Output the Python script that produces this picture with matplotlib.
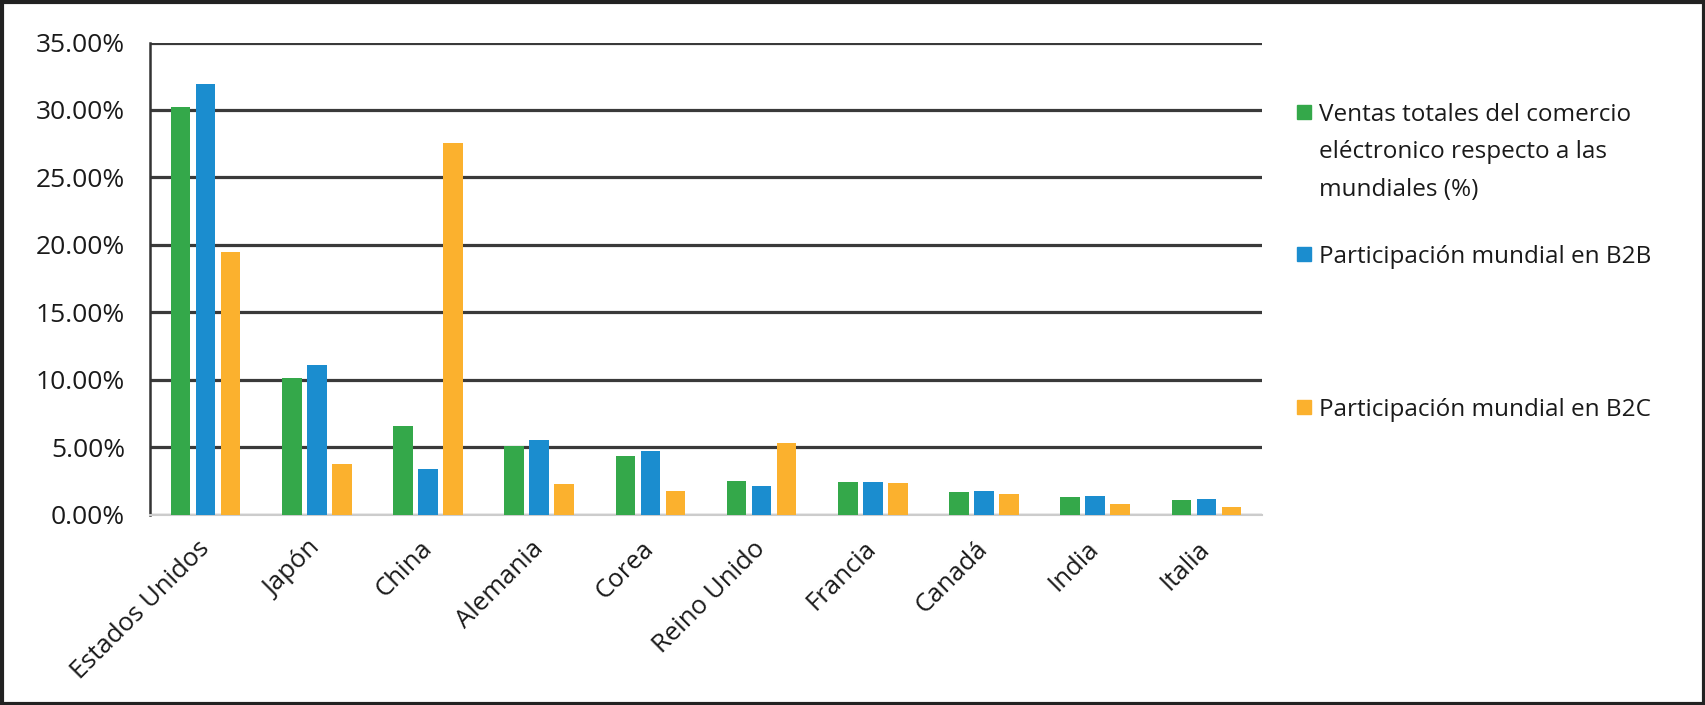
import matplotlib
matplotlib.use("Agg")
import matplotlib.pyplot as plt
from matplotlib.patches import Rectangle
from matplotlib.ticker import FuncFormatter
import numpy as np

plt.rcParams['font.family'] = ['Open Sans', 'DejaVu Sans']

categories = ["Estados Unidos", "Japón", "China", "Alemania", "Corea",
              "Reino Unido", "Francia", "Canadá", "India", "Italia"]
ventas_totales = [30.2, 10.1, 6.55, 5.05, 4.33, 2.52, 2.45, 1.68, 1.31, 1.09]
b2b = [31.9, 11.07, 3.39, 5.52, 4.71, 2.12, 2.45, 1.73, 1.38, 1.19]
b2c = [19.5, 3.77, 27.56, 2.24, 1.76, 5.31, 2.35, 1.51, 0.79, 0.54]
series_labels = [["Ventas totales del comercio", "eléctronico respecto a las", "mundiales (%)"],
                 ["Participación mundial en B2B"],
                 ["Participación mundial en B2C"]]
colors = ["#34A84A", "#1B8DCF", "#FBB12E"]
yticks = [0, 5, 10, 15, 20, 25, 30, 35]

W, H = 1706, 705
fig = plt.figure(figsize=(W/100, H/100), dpi=100)
ax = fig.add_axes([150/W, 1-514.6/H, (1262-150)/W, (514.6-42.5)/H])

x = np.arange(len(categories))
w = 0.175
off = 0.225
for i, (vals, c) in enumerate(zip([ventas_totales, b2b, b2c], colors)):
    ax.bar(x + (i-1)*off, vals, width=w, color=c, zorder=3)

ax.set_xlim(-0.5, len(categories)-0.5)
ax.set_ylim(0, 35)
ax.set_yticks(yticks)
ax.yaxis.set_major_formatter(FuncFormatter(lambda v, p: f"{v:.2f}%"))
ax.grid(axis='y', color='#3a3a3a', linewidth=2.3, zorder=0)
ax.set_axisbelow(True)
for s in ['top', 'right']:
    ax.spines[s].set_visible(False)
ax.spines['left'].set_color('#333333')
ax.spines['left'].set_linewidth(1.8)
ax.spines['bottom'].set_color('#cccccc')
ax.spines['bottom'].set_linewidth(1.5)
ax.tick_params(axis='y', length=0, pad=18, labelsize=19, labelcolor='#1a1a1a')
ax.tick_params(axis='x', length=0, pad=22, labelsize=18.5, labelcolor='#1a1a1a')
ax.set_xticks(x)
ax.set_xticklabels(categories, rotation=45, ha='right', rotation_mode='anchor', va='center')

# legend (manual placement), y positions in full-size pixels for line centers
line_centers = [[112, 149, 187], [254], [407]]
fs = 17.5
for lines, ys, c in zip(series_labels, line_centers, colors):
    y0 = ys[0]
    fig.patches.append(Rectangle((1297/W, 1 - (y0 + 7)/H), 14/W, 14/H,
                                 transform=fig.transFigure, color=c, figure=fig))
    for txt, yy in zip(lines, ys):
        fig.text(1319/W, 1 - (yy + 9)/H, txt, fontsize=fs, color='#1a1a1a',
                 va='baseline', ha='left', transform=fig.transFigure)

fig.patches.append(Rectangle((0.001, 0.002), 0.998, 0.995, transform=fig.transFigure,
                             fill=False, edgecolor='#222222', linewidth=3, figure=fig))

fig.savefig("out.png", dpi=100)
